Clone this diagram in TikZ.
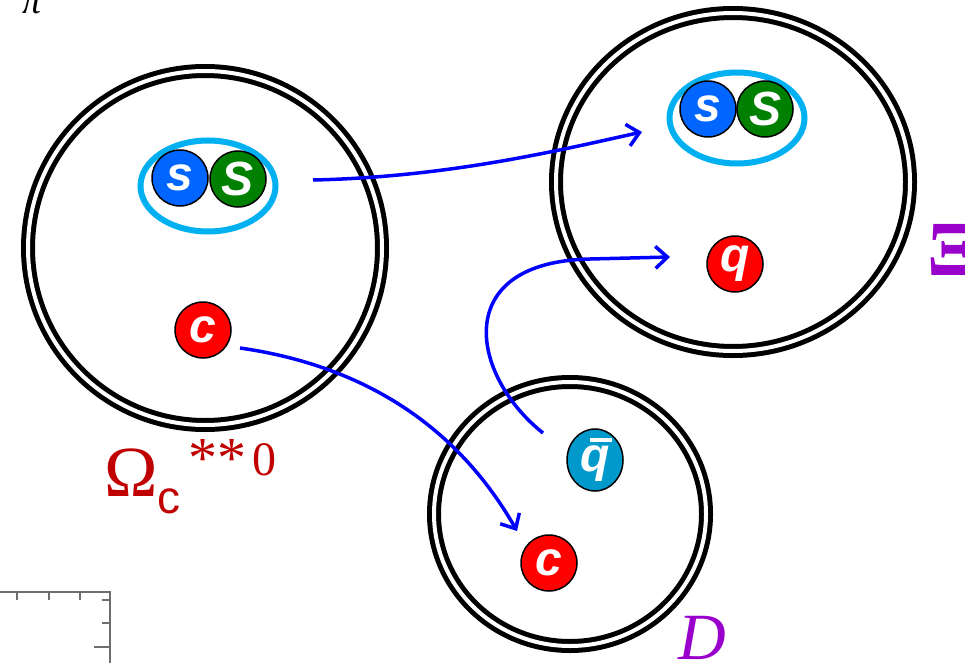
\documentclass[tikz,border=0pt]{standalone}
\usepackage{fontspec}
\setmainfont{Liberation Serif}
\setsansfont{Liberation Sans}
\usetikzlibrary{arrows.meta,shapes.geometric}
\definecolor{qblue}{RGB}{0,102,255}
\definecolor{qgreen}{RGB}{0,128,0}
\definecolor{qred}{RGB}{255,0,0}
\definecolor{qteal}{RGB}{0,153,204}
\definecolor{dqcyan}{RGB}{0,176,240}
\definecolor{omred}{RGB}{192,0,0}
\definecolor{dpurple}{RGB}{153,0,204}
\definecolor{axgray}{RGB}{110,110,110}
\begin{document}
\begin{tikzpicture}[x=1pt,y=-1pt,
  ring/.style={draw=black,line width=5pt,double=white,double distance=4pt},
  quark/.style={circle,draw=black,line width=1.5pt,minimum size=56pt,inner sep=0pt,text=white,
    font=\sffamily\bfseries\itshape\fontsize{48}{48}\selectfont},
  diquark/.style={ellipse,draw=dqcyan,line width=6pt,minimum width=135pt,minimum height=91pt,inner sep=0pt},
  arr/.style={draw=blue,line width=3.5pt,-{Straight Barb[length=12pt,width=22pt]}},
  tick/.style={draw=axgray,line width=1.2pt}]
\useasboundingbox (0,0) rectangle (965,663);
\clip (0,0) rectangle (965,663);

% hadron rings
\draw[ring] (205,248) circle[radius=177];
\draw[ring] (733,182) ellipse[x radius=177,y radius=169];
\draw[ring] (570,514) ellipse[x radius=136,y radius=132];

% left baryon
\node[diquark] (dqL) at (208,186) {};
\node[quark,fill=qblue] (sL) at (180,178) {s};
\node[quark,fill=qgreen] (SL) at (238,179) {S};
\node[quark,fill=qred] (cL) at (203,330) {c};

% right baryon
\node[diquark] (dqR) at (737,118) {};
\node[quark,fill=qblue] (sR) at (708,109) {s};
\node[quark,fill=qgreen] (SR) at (765,109) {S};
\node[quark,fill=qred] (qR) at (735,264) {q};

% D meson
\node[quark,ellipse,minimum width=56pt,minimum height=62pt,fill=qteal] (qbar) at (595,460)
  {\makebox[0pt][l]{\hspace{0.2em}\rule[0.62em]{0.45em}{0.07em}}q};
\node[quark,fill=qred] (cD) at (549,563) {c};

% labels
\node[anchor=base west,inner sep=0pt,text=omred,font=\fontsize{72}{72}\selectfont] (om) at (104,496) {Ω};
\node[anchor=base west,inner sep=0pt,text=omred,font=\sffamily\fontsize{46}{46}\selectfont] (omc) at (157,513) {c};
\node[anchor=base west,inner sep=0pt,text=omred,font=\fontsize{58}{58}\selectfont] (oms) at (188,477) {**};
\node[anchor=base west,inner sep=0pt,text=omred,font=\fontsize{48}{48}\selectfont] (om0) at (252,475) {0};
\node[anchor=base west,inner sep=0pt,text=dpurple,font=\itshape\fontsize{66}{66}\selectfont] (dlab) at (678,659) {D};
\node[anchor=base west,inner sep=0pt,text=dpurple,font=\bfseries\fontsize{78}{78}\selectfont] (xi) at (927,275) {Ξ};
\node[anchor=base west,inner sep=0pt,font=\itshape\fontsize{38}{38}\selectfont] (pi) at (22,14) {π};

% partial axes frame (bottom left)
\coordinate (fa) at (0,592);
\coordinate (fb) at (110,592);
\coordinate (fc) at (110,663);
\draw[tick] (fa) -- (fb) -- (fc);
\foreach \x in {17,49,80} \draw[tick] (\x,592) -- (\x,600);
\foreach \y/\l in {600/8,623/8,647/16} \draw[tick] (110,\y) -- ++(-\l,0);

% arrows
\coordinate (a1s) at (313,180);
\coordinate (a1e) at (642,132);
\draw[arr] (a1s) .. controls (450,177) and (560,150) .. (a1e);
\coordinate (a2s) at (240,348);
\coordinate (a2e) at (517,531);
\draw[arr] (a2s) .. controls (380,368) and (465,440) .. (a2e);
\coordinate (a3s) at (543,433);
\coordinate (a3m) at (590,259);
\coordinate (a3e) at (670,257);
\draw[arr] (a3s) .. controls (470,375) and (450,262) .. (a3m) -- (a3e);
\end{tikzpicture}
\end{document}
